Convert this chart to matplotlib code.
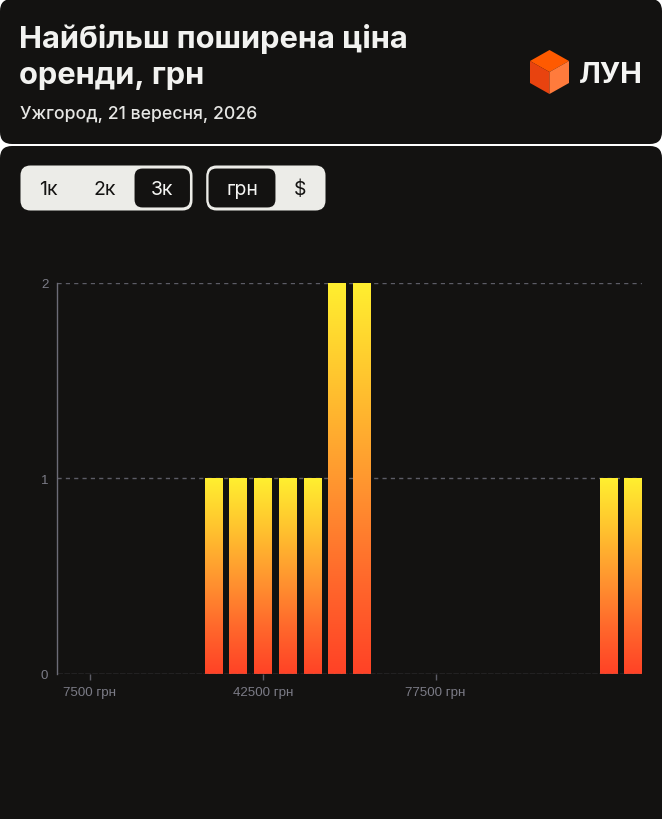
import numpy as np
import matplotlib
matplotlib.use("Agg")
import matplotlib.pyplot as plt
from matplotlib.patches import FancyBboxPatch, Polygon
from matplotlib.colors import LinearSegmentedColormap

# ---------------- data ----------------
bin_centers = [2500, 7500, 12500, 17500, 22500, 27500, 32500, 37500, 42500, 47500,
               52500, 57500, 62500, 67500, 72500, 77500, 82500, 87500, 92500, 97500,
               102500, 107500, 112500, 117500]
counts = [0, 0, 0, 0, 0, 0, 1, 1, 1, 1,
          1, 2, 2, 0, 0, 0, 0, 0, 0, 0,
          0, 0, 1, 1]
xtick_values = [7500, 42500, 77500]
xtick_labels = ["7500 грн", "42500 грн", "77500 грн"]
ytick_values = [0, 1, 2]
title_lines = ["Найбільш поширена ціна", "оренди, грн"]
subtitle = "Ужгород, 21 вересня, 2026"
range_buttons = ["1к", "2к", "3к"]
currency_buttons = ["грн", "$"]
brand = "ЛУН"

W, H = 662, 820
CARD = "#131211"
GRID = "#5c5c66"
TICK = "#7b7b86"

fig = plt.figure(figsize=(W / 100, H / 100), dpi=100)
fig.patch.set_facecolor("white")

# background axes in pixel coordinates
bg = fig.add_axes([0, 0, 1, 1])
bg.set_xlim(0, W)
bg.set_ylim(H, 0)
bg.axis("off")

def rbox(ax, x0, y0, x1, y1, r, fc, ec="none", lw=0, z=1):
    p = FancyBboxPatch((x0 + r, y0 + r), (x1 - x0) - 2 * r, (y1 - y0) - 2 * r,
                       boxstyle=f"round,pad={r}", fc=fc, ec=ec, lw=lw, zorder=z,
                       mutation_aspect=1)
    ax.add_patch(p)

# cards
rbox(bg, 0, 0, W, 145, 12, CARD)
rbox(bg, 0, 147, W, H + 20, 12, CARD)

# title
bg.text(19, 47.7, title_lines[0], fontsize=22.2, fontweight="bold", family="Inter",
        color="#f2f2f0", va="baseline", ha="left")
bg.text(19, 83.5, title_lines[1], fontsize=22.2, fontweight="bold", family="Inter",
        color="#f2f2f0", va="baseline", ha="left")
bg.text(20, 119.3, subtitle, fontsize=12.7, fontweight="medium", family="Inter",
        color="#e6e6e4", va="baseline", ha="left")

# logo cube
cx, cy = 549.5, 73
top = (549.5, 51); ur = (569, 62); lr = (569, 84); bot = (549.5, 95); ll = (530, 84); ul = (530, 62)
c = (cx, cy)
bg.add_patch(Polygon([top, ur, c, ul], closed=True, fc="#ff5a00", ec="none", zorder=3))
bg.add_patch(Polygon([ul, c, bot, ll], closed=True, fc="#e8430f", ec="none", zorder=3))
bg.add_patch(Polygon([c, ur, lr, bot], closed=True, fc="#ff7b3c", ec="none", zorder=3))
bg.text(579, 83, brand, fontsize=21, fontweight="bold", family="Inter",
        color="#f5f5f3", va="baseline", ha="left")

# button groups
LIGHT = "#ecece8"
rbox(bg, 20.5, 166.5, 192.5, 211.5, 10, LIGHT, z=2)
rbox(bg, 133.5, 168.5, 191, 209.5, 9, CARD, ec=LIGHT, lw=1.5, z=3)
btn_x = [48.5, 105, 162]
for i, lab in enumerate(range_buttons):
    col = "#f5f5f3" if i == 2 else "#151413"
    bg.text(btn_x[i], 195, lab, fontsize=14, family="Inter", color=col,
            ha="center", va="baseline", zorder=4)
rbox(bg, 206.5, 166.5, 325.5, 211.5, 10, LIGHT, z=2)
rbox(bg, 207.5, 168.5, 276.5, 209.5, 9, CARD, ec=LIGHT, lw=1.5, z=3)
btn2_x = [242, 300]
for i, lab in enumerate(currency_buttons):
    col = "#f5f5f3" if i == 0 else "#151413"
    bg.text(btn2_x[i], 195, lab, fontsize=14, family="Inter", color=col,
            ha="center", va="baseline", zorder=4)

# ---------------- chart ----------------
left_px, right_px, top_px, bot_px = 56.7, 641.7, 283.7, 675.0
ax = fig.add_axes([left_px / W, (H - bot_px) / H, (right_px - left_px) / W,
                   (bot_px - top_px) / H])
ax.set_facecolor("none")
xlim = (755, 119250)
ylim = (0, 2)

cmap = LinearSegmentedColormap.from_list(
    "grad", ["#ff4226", "#ff6a2c", "#ff9830", "#ffc42e", "#ffef30"])
grad = np.linspace(0, 1, 256).reshape(-1, 1)
bar_w = 3500
for xc, h in zip(bin_centers, counts):
    if h <= 0:
        continue
    ax.imshow(grad, cmap=cmap, origin="lower", aspect="auto",
              extent=(xc - bar_w / 2, xc + bar_w / 2, 0, h), zorder=3,
              interpolation="bilinear")

ax.set_xlim(*xlim)
ax.set_ylim(*ylim)

for yv in ytick_values[1:]:
    ax.axhline(yv, color=GRID, lw=1, ls=(0, (3, 3)), zorder=1)
ax.axhline(0, color="#60606a", lw=1, ls=(0, (4, 1)), zorder=4)

for s in ["top", "right", "bottom"]:
    ax.spines[s].set_visible(False)
ax.spines["left"].set_color("#6c6c77")
ax.spines["left"].set_linewidth(1)

ax.set_yticks(ytick_values)
ax.set_yticklabels([str(v) for v in ytick_values])
ax.set_xticks(xtick_values)
ax.set_xticklabels(xtick_labels)
ax.tick_params(axis="y", length=0, pad=6, labelsize=9.6, labelcolor=TICK)
ax.tick_params(axis="x", length=4, width=1, color=GRID, pad=5, labelsize=9.6,
               labelcolor=TICK)
for lab in ax.get_xticklabels() + ax.get_yticklabels():
    lab.set_family("Liberation Sans")

fig.savefig("out.png", dpi=100, facecolor=fig.get_facecolor())
